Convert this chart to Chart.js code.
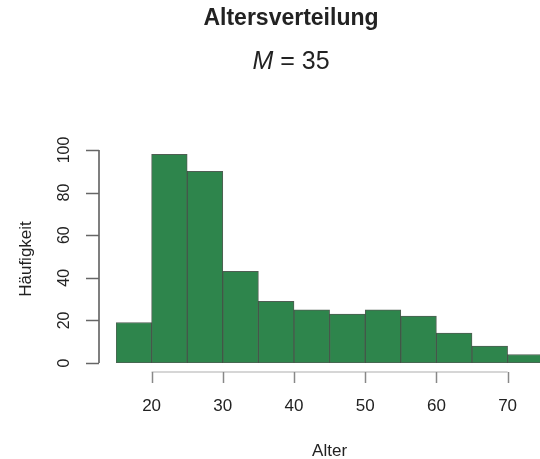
<!DOCTYPE html>
<html>
<head>
<meta charset="utf-8">
<script src="https://cdn.jsdelivr.net/npm/chart.js@4"></script>
<style>
  html, body { margin: 0; padding: 0; background: #fff; }
  #wrap { width: 540px; height: 459px; }
</style>
</head>
<body>
<div id="wrap"><canvas id="histChart" width="540" height="459"></canvas></div>
<script>
// data
const binStarts = [15, 20, 25, 30, 35, 40, 45, 50, 55, 60, 65, 70];
const counts    = [19, 98, 90, 43, 29, 25, 23, 25, 22, 14, 8, 4];
const binWidth  = 5;
const xTicks    = [20, 30, 40, 50, 60, 70];
const yTicks    = [0, 20, 40, 60, 80, 100];
const titleText = 'Altersverteilung';
const meanValue = 35;
const xLabel    = 'Alter';
const yLabel    = 'Häufigkeit';

const FONT = '"Liberation Sans", Arial, sans-serif';
const TEXT = '#222';

// R-style axes, title and labels drawn around the plot area
const rAxes = {
  id: 'rAxes',
  afterDraw(chart) {
    const { ctx, scales: { x, y }, chartArea } = chart;
    ctx.save();

    // title + subtitle
    ctx.fillStyle = TEXT;
    ctx.textAlign = 'center';
    ctx.textBaseline = 'middle';
    ctx.font = 'bold 23px ' + FONT;
    ctx.fillText(titleText, 291, 19);
    ctx.font = 'italic 25px ' + FONT;
    const mW = ctx.measureText('M').width;
    ctx.font = '25px ' + FONT;
    const rest = ' = ' + meanValue;
    const rW = ctx.measureText(rest).width;
    const startX = 291 - (mW + rW) / 2;
    ctx.textAlign = 'left';
    ctx.font = 'italic 25px ' + FONT;
    ctx.fillText('M', startX, 62);
    ctx.font = '25px ' + FONT;
    ctx.fillText(rest, startX + mW, 62);

    // x axis (offset below the bars)
    const axY = chartArea.bottom + 9;
    ctx.strokeStyle = '#c8c8c8';
    ctx.lineWidth = 1.5;
    ctx.beginPath();
    ctx.moveTo(x.getPixelForValue(xTicks[0]), axY);
    ctx.lineTo(x.getPixelForValue(xTicks[xTicks.length - 1]), axY);
    ctx.stroke();
    ctx.strokeStyle = '#888';
    xTicks.forEach(v => {
      const px = Math.round(x.getPixelForValue(v)) + 0.5;
      ctx.beginPath();
      ctx.moveTo(px, axY);
      ctx.lineTo(px, axY + 11);
      ctx.stroke();
    });
    ctx.fillStyle = TEXT;
    ctx.textAlign = 'center';
    ctx.textBaseline = 'middle';
    ctx.font = '17px ' + FONT;
    xTicks.forEach(v => ctx.fillText(String(v), x.getPixelForValue(v), 406));
    ctx.fillText(xLabel, (chartArea.left + x.getPixelForValue(75)) / 2, 451);

    // y axis (offset left of the bars)
    const axX = chartArea.left - 17;
    ctx.strokeStyle = '#555';
    ctx.lineWidth = 1.5;
    ctx.beginPath();
    ctx.moveTo(axX, y.getPixelForValue(yTicks[0]));
    ctx.lineTo(axX, y.getPixelForValue(yTicks[yTicks.length - 1]));
    ctx.stroke();
    ctx.strokeStyle = '#666';
    yTicks.forEach(v => {
      const py = Math.round(y.getPixelForValue(v)) + 0.5;
      ctx.beginPath();
      ctx.moveTo(axX, py);
      ctx.lineTo(axX - 13, py);
      ctx.stroke();
    });
    ctx.font = '16px ' + FONT;
    yTicks.forEach(v => {
      ctx.save();
      ctx.translate(65, y.getPixelForValue(v));
      ctx.rotate(-Math.PI / 2);
      ctx.fillText(String(v), 0, 0);
      ctx.restore();
    });
    ctx.font = '17px ' + FONT;
    ctx.save();
    ctx.translate(26, 259);
    ctx.rotate(-Math.PI / 2);
    ctx.fillText(yLabel, 0, 0);
    ctx.restore();

    ctx.restore();
  }
};

document.addEventListener('DOMContentLoaded', () => {
  const ctx = document.getElementById('histChart').getContext('2d');
  new Chart(ctx, {
    type: 'bar',
    data: {
      datasets: [{
        data: binStarts.map((s, i) => ({ x: s + binWidth / 2, y: counts[i] })),
        backgroundColor: '#2e854c',
        borderColor: 'rgba(20,40,25,0.75)',
        borderWidth: 1,
        borderSkipped: false,
        barPercentage: 1,
        categoryPercentage: 1
      }]
    },
    options: {
      responsive: false,
      animation: false,
      layout: { padding: { left: 116, right: 0, top: 150, bottom: 96 } },
      scales: {
        x: { type: 'linear', min: 15, max: 74.55, offset: false, display: false },
        y: { min: 0, max: 100, display: false }
      },
      plugins: {
        legend: { display: false },
        tooltip: { enabled: false },
        title: { display: false }
      }
    },
    plugins: [rAxes]
  });
});
</script>
</body>
</html>
